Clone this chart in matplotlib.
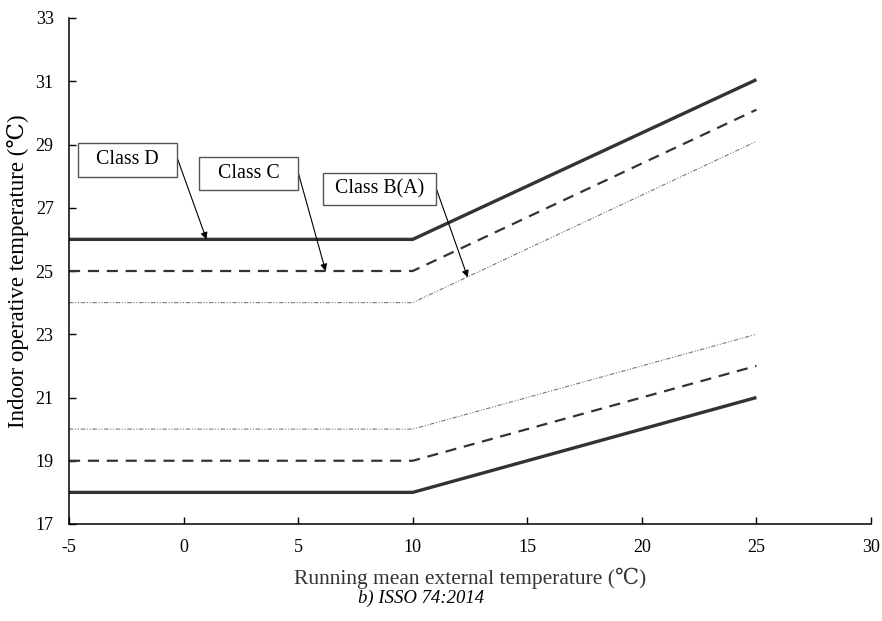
import matplotlib
matplotlib.use("Agg")
import matplotlib.pyplot as plt
from matplotlib.patches import Rectangle

plt.rcParams['font.family'] = ['Liberation Serif', 'DejaVu Serif', 'Noto Sans CJK SC']

x_pts = [-5, 10, 25]
class_d_upper = [26, 26, 31.05]
class_c_upper = [25, 25, 30.1]
class_b_upper = [24, 24, 29.1]
class_b_lower = [20, 20, 23]
class_c_lower = [19, 19, 22]
class_d_lower = [18, 18, 21]

x_ticks = [-5, 0, 5, 10, 15, 20, 25, 30]
y_ticks = [17, 19, 21, 23, 25, 27, 29, 31, 33]

fig = plt.figure(figsize=(8.82, 6.21), dpi=100)
ax = fig.add_axes([69/882, 1-524/621, (871-69)/882, (524-18)/621])

dark = '#333333'
ax.plot(x_pts, class_d_upper, color=dark, lw=2.4, solid_capstyle='butt')
ax.plot(x_pts, class_d_lower, color=dark, lw=2.4, solid_capstyle='butt')
ax.plot(x_pts, class_c_upper, color=dark, lw=1.6, dashes=(5, 3.5))
ax.plot(x_pts, class_c_lower, color=dark, lw=1.6, dashes=(5, 3.5))
ax.plot(x_pts, class_b_upper, color='#777777', lw=0.8, dashes=(4, 1.5, 1, 1.5, 1, 1.5))
ax.plot(x_pts, class_b_lower, color='#777777', lw=0.8, dashes=(4, 1.5, 1, 1.5, 1, 1.5))

ax.set_xlim(-5, 30)
ax.set_ylim(17, 33)
ax.set_xticks(x_ticks)
ax.set_yticks(y_ticks)
ax.set_xticklabels([str(v) for v in x_ticks])
ax.set_yticklabels([str(v) for v in y_ticks])
ax.tick_params(direction='in', length=5, width=1, labelsize=13, colors='black')
ax.tick_params(axis='y', pad=11)
ax.tick_params(axis='x', pad=11)
for s in ['top', 'right']:
    ax.spines[s].set_visible(False)
for s in ['left', 'bottom']:
    ax.spines[s].set_linewidth(1.1)

ax.set_xlabel('Running mean external temperature (\u2103)', fontsize=15.5, color='#333333', labelpad=8)
ax.set_ylabel('Indoor operative temperature (\u2103)', fontsize=16.5, labelpad=5)

fig.text(421/882, 1-598/621, 'b) ISSO 74:2014', fontsize=13.5, style='italic', ha='center', va='center')

# (label, box x0, x1, y_bottom, y_top, arrow tip, arrow start)
labels = [('Class D', -4.61, -0.29, 27.97, 29.05, (1.0, 26.0), (-0.29, 28.6)),
          ('Class C', 0.67, 5.0, 27.56, 28.6, (6.2, 25.0), (5.0, 28.12)),
          ('Class B(A)', 6.09, 11.02, 27.09, 28.10, (12.4, 24.8), (11.02, 27.62))]
for txt, x0, x1, y0, y1, tip, start in labels:
    ax.add_patch(Rectangle((x0, y0), x1 - x0, y1 - y0, fc='white', ec='#555555', lw=1, zorder=5))
    ax.text((x0 + x1) / 2, (y0 + y1) / 2, txt, fontsize=14.3, ha='center', va='center', zorder=6)
    ax.annotate('', xy=tip, xytext=start,
                arrowprops=dict(arrowstyle='-|>', color='black', lw=0.8,
                                mutation_scale=10, shrinkA=0, shrinkB=0), zorder=4)

fig.savefig('out.png', dpi=100)
